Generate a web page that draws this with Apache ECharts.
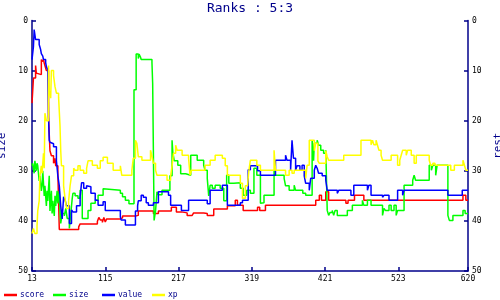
<!DOCTYPE html>
<html><head><meta charset="utf-8">
<script src="https://cdn.jsdelivr.net/npm/echarts@6/dist/echarts.min.js"></script>
<style>html,body{margin:0;padding:0;background:#fff}#c{width:500px;height:300px}</style>
</head><body><div id="c"></div>
<script>
const seriesNames = ['score', 'size', 'value', 'xp'];
const seriesColors = ['#ff0000', '#00ff00', '#0000ff', '#ffff00'];
const xTickLabels = [13, 115, 217, 319, 421, 523, 620];
const yTickLabels = [0, 10, 20, 30, 40, 50];

const score = [[13,16.5],[15,11.5],[18,9],[19,10.5],[20,10.8],[26,7.8],[27,8.2],[29,7.8],[30,8.5],[31,9],[33,10],[36,19.3],[38,26],[40,27],[43,28.5],[45,27.5],[46,29],[49,30.5],[51,41.7],[78,41.2],[80,40.6],[104,40.1],[106,39.3],[108,39.8],[111,40.3],[113,39.3],[115,40.2],[117,39.6],[136,39.4],[139,39],[158,38.9],[161,38],[182,38.5],[189,38],[207,37.3],[214,38.2],[221,38.4],[229,38.9],[236,39.2],[238,38.4],[252,38.5],[257,38.9],[266,37.6],[285,37],[296,35.9],[299,36.9],[307,37.9],[327,37.3],[330,37.9],[338,36.9],[408,35.9],[413,34.9],[416,35.9],[422,34.2],[426,35.9],[450,36.5],[453,35.9],[462,34.9],[475,35.9],[613,34.9],[617,35.9],[620,35.9]];

const size = [[13,29],[14,28.5],[16,30.5],[17,28],[19,30],[20,28.5],[21,29],[23,32],[24,31],[26,34],[27,33],[28,30],[30,35],[31,33],[33,37],[34,34],[35,36],[37,31],[38,38],[40,34],[41,38.5],[42,36],[44,39],[45,35],[46,37],[48,34],[49,36.5],[51,34],[52,38],[53,40.5],[55,38.5],[58,39],[60,37.5],[62,39.5],[65,41.5],[67,38.5],[69,35.5],[70,34.5],[73,35],[77,35.5],[80,33.9],[83,39.5],[91,37.9],[95,36.5],[101,35.9],[105,34.9],[112,33.6],[113,33.9],[136,34.5],[139,35.2],[143,35.9],[148,36.6],[155,13.8],[158,6.7],[161,7.6],[162,6.7],[164,7.3],[165,7.8],[180,8.4],[181,12.6],[183,39.9],[185,38],[187,34.2],[189,34.8],[194,33.9],[205,31],[208,23.9],[209,26.2],[211,28],[216,28.9],[220,30.6],[227,30.9],[234,26.9],[243,27.9],[252,28.9],[254,29.9],[257,31.5],[259,35],[261,32.9],[264,33.5],[268,32.9],[275,33.5],[280,36],[284,30.9],[287,32.5],[294,32.4],[303,33.5],[307,34.9],[312,33.9],[317,34.5],[322,29.5],[326,30.9],[331,36.5],[333,36.4],[336,34.9],[350,30],[352,30.9],[364,31.5],[366,33],[371,33.9],[378,32.9],[380,33.9],[390,34.5],[394,34.9],[403,23.9],[405,28],[406,24.5],[410,23.9],[412,24.9],[415,25.9],[419,26.5],[422,25.9],[424,37.9],[426,38.9],[428,38.3],[431,37.9],[433,38.9],[435,37.9],[438,38.9],[452,37.9],[459,36.9],[473,35.9],[475,36.9],[480,35.9],[485,36.9],[501,38.9],[503,37.5],[505,37.9],[510,36.9],[513,37.9],[517,36.9],[520,38.9],[522,37.9],[531,32.9],[543,31.9],[545,30.9],[547,31.9],[566,28.9],[569,29.9],[571,28.9],[575,30.9],[577,28.9],[592,38.9],[594,39.9],[599,38.9],[613,37.9],[616,38.5],[620,38.5]];

const value = [[13,7.8],[15,5.2],[16,1.8],[18,3.8],[23,4.8],[25,5.8],[26,6.6],[28,7.1],[29,7.8],[32,8.4],[33,9.2],[35,9.9],[36,19.2],[37,23.9],[38,24.3],[40,24.6],[43,25.2],[47,28],[49,31],[51,33],[53,37],[55,39.6],[57,35.2],[59,35.8],[61,37],[65,40.5],[68,37.8],[70,38.2],[75,37],[80,35.2],[82,32.4],[85,33.5],[89,33],[91,33.2],[95,34.5],[101,35.9],[105,36.9],[112,36.2],[115,37.9],[136,39.2],[137,39.8],[143,40.8],[157,38],[160,37],[161,36],[165,34.9],[168,35.3],[172,36.4],[175,36.9],[182,36.4],[189,34.2],[203,34.9],[206,36.9],[221,37.9],[231,35.9],[257,36.6],[261,33.9],[278,32.9],[285,36.9],[303,36.4],[306,35.9],[314,29.8],[317,29],[327,30],[331,30.9],[352,27.9],[366,26.9],[368,27.9],[373,29.9],[375,23.9],[377,27.5],[380,29.9],[382,29],[386,29.9],[389,28.9],[392,31],[394,32.5],[399,33.9],[401,31.5],[406,29.9],[408,28.9],[410,29.5],[412,30.5],[417,31],[422,31.9],[424,33.9],[438,34.5],[440,33.9],[445,33.6],[447,33.9],[457,34.9],[461,32.9],[480,33.9],[482,32.9],[485,34.9],[501,35.3],[503,34.9],[510,35.9],[522,33.9],[529,34.9],[531,33.9],[592,34.9],[612,33.9],[620,33.9]];

const xp = [[13,42.5],[15,41.5],[17,42.5],[20,41],[21,38],[23,36],[24,31],[26,29],[27,30.5],[29,26.5],[30,29.5],[31,18.5],[33,20],[36,9],[37,14],[39,15.5],[40,10],[43,11],[45,13.2],[47,14.5],[50,15.3],[52,21],[53,26],[54,29],[57,33],[59,35.5],[61,37.5],[64,36],[66,33],[68,31],[71,29.5],[73,29.9],[77,29],[80,29.9],[85,30.5],[89,29.5],[91,28],[97,28.9],[104,29.5],[108,28],[112,27.3],[118,28.5],[126,29.9],[136,29],[138,30.9],[152,29.9],[154,27.5],[157,23.9],[159,24.5],[161,27.2],[166,27.9],[178,25.9],[180,27],[182,28.5],[185,29.9],[187,30.9],[201,31.9],[206,31],[208,29],[210,26.5],[213,24.9],[215,25.9],[222,26.9],[231,27.5],[233,30.9],[235,29.9],[254,28.9],[261,27.9],[268,26.9],[278,27.5],[282,29],[285,30.9],[303,32.5],[306,35.5],[310,33],[313,32.9],[315,29.9],[317,27.9],[326,28.9],[331,29.9],[350,25.9],[352,29.9],[366,30.9],[371,29.9],[375,30.5],[378,29.9],[394,31.5],[396,28.9],[399,23.9],[406,26],[408,24.5],[411,28],[413,28.5],[422,26],[424,27.2],[426,27.9],[447,26.9],[471,23.9],[485,24.8],[487,23.9],[489,24.8],[492,23.9],[494,24.9],[496,25.9],[499,26.9],[501,27.9],[513,26.9],[522,28.9],[525,27.9],[527,26.9],[529,25.9],[534,26.9],[536,25.9],[541,26.9],[545,28.5],[548,26.9],[566,27.9],[568,28.9],[571,28.5],[574,28.9],[596,29.9],[601,28.9],[613,27.9],[615,28.9],[617,29.9],[620,29.9]];

const seriesData = [score, size, value, xp];
const NAVY = '#00008b';
const FONT = '"DejaVu Sans Mono", monospace';

function yAxisDef(pos, name, gap) {
  return {
    type: 'value', position: pos, inverse: true,
    min: yTickLabels[0], max: yTickLabels[yTickLabels.length - 1], interval: 10,
    name: name, nameLocation: 'middle', nameRotate: 90, nameGap: gap,
    nameTextStyle: { color: NAVY, fontFamily: FONT, fontSize: 11 },
    axisLine: { show: true, lineStyle: { color: NAVY, width: 1.5 } },
    axisTick: { show: true, inside: true, length: 4, lineStyle: { color: NAVY, width: 1.5 } },
    axisLabel: { color: '#000', fontFamily: FONT, fontSize: 8, margin: 4 },
    splitLine: { show: false }
  };
}

const chart = echarts.init(document.getElementById('c'), null, { renderer: 'canvas' });
chart.setOption({
  animation: false,
  backgroundColor: '#fff',
  title: {
    text: 'Ranks : 5:3', left: 'center', top: 2, padding: 0,
    textStyle: { color: NAVY, fontFamily: FONT, fontSize: 13, fontWeight: 'normal' }
  },
  legend: seriesNames.map((n, i) => ({
    data: [n], left: [4, 53, 102, 152][i], top: 291, padding: 0,
    icon: 'rect', itemWidth: 13, itemHeight: 2.5,
    textStyle: { color: NAVY, fontFamily: FONT, fontSize: 8, padding: [0, 0, 0, -2] }
  })),
  grid: { left: 32, right: 32, top: 20.5, bottom: 29, containLabel: false, outerBoundsMode: 'none' },
  xAxis: {
    type: 'value', min: xTickLabels[0], max: xTickLabels[xTickLabels.length - 1], interval: 102,
    axisLine: { show: true, onZero: false, lineStyle: { color: NAVY, width: 1.5 } },
    axisTick: { show: true, inside: true, length: 4, lineStyle: { color: NAVY, width: 1.5 } },
    axisLabel: { color: '#000', fontFamily: FONT, fontSize: 8, margin: 4, showMaxLabel: true, showMinLabel: true },
    splitLine: { show: false }
  },
  yAxis: [yAxisDef('left', 'size', 14), yAxisDef('right', 'rest', 20)],
  series: seriesNames.map((n, i) => ({
    name: n, type: 'line', step: 'end', data: seriesData[i],
    yAxisIndex: 0, showSymbol: false, symbol: 'none',
    lineStyle: { color: seriesColors[i], width: 1.5 },
    itemStyle: { color: seriesColors[i] }
  }))
});
</script></body></html>
